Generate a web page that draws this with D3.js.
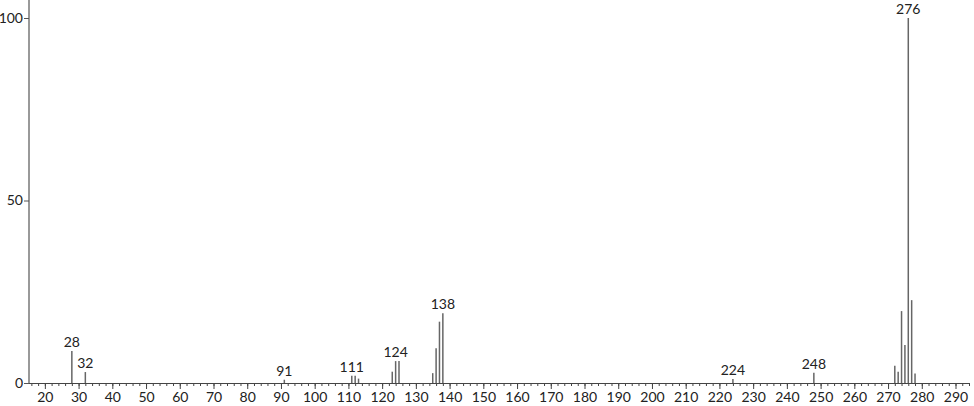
<!DOCTYPE html>
<html>
<head>
<meta charset="utf-8">
<script src="https://cdn.jsdelivr.net/npm/d3@7"></script>
<style>
  body { margin: 0; background: #fff; }
  text { font-family: Lato, "Open Sans", sans-serif; font-size: 14px; fill: #222; }
</style>
</head>
<body>
<div id="chart"></div>
<script>
/* peak data: m/z and relative intensity */
var mz = [28, 32, 91, 111, 112, 113, 123, 124, 125, 135, 136, 137, 138, 224, 248, 272, 273, 274, 275, 276, 277, 278];
var intensity = [8.8, 3.0, 0.9, 2.0, 2.0, 1.2, 3.1, 6.0, 6.0, 2.7, 9.5, 16.8, 19.1, 1.1, 2.8, 4.7, 3.1, 19.7, 10.4, 100, 22.7, 2.6];
var labelled = [28, 32, 91, 111, 124, 138, 224, 248, 276];
var xTicks = d3.range(20, 291, 10);
var yTicks = [0, 50, 100];

var width = 974;
var height = 406;

var x = d3.scaleLinear().domain([15, 294]).range([28, 969]);
var y = d3.scaleLinear().domain([0, 100]).range([383, 18]);

var svg = d3.select("#chart").append("svg")
    .attr("width", width)
    .attr("height", height);

/* minor ticks every 2, major every 10 */
svg.append("g")
    .attr("transform", "translate(0,383)")
    .call(d3.axisBottom(x).tickValues(d3.range(16, 295, 2)).tickSize(3).tickFormat(""))
    .call(function(g) { g.select(".domain").remove(); })
    .selectAll("line").attr("stroke", "#444");

var xAxis = svg.append("g")
    .attr("transform", "translate(0,383)")
    .call(d3.axisBottom(x).tickValues(xTicks).tickSize(6).tickSizeOuter(0).tickPadding(3));
xAxis.select(".domain").attr("stroke", "#444");
xAxis.selectAll("line").attr("stroke", "#444");
xAxis.selectAll("text").style("font-size", "14px").attr("fill", "#222").style("font-family", "Lato, sans-serif");

var yAxis = svg.append("g")
    .attr("transform", "translate(29,0)")
    .call(d3.axisLeft(y).tickValues(yTicks).tickSize(5).tickSizeOuter(0).tickPadding(1));
yAxis.select(".domain").attr("stroke", "#999").attr("stroke-width", 2).attr("d", "M0,0V383");
yAxis.selectAll("line").attr("stroke", "#555");
yAxis.selectAll("text").style("font-size", "14px").attr("fill", "#222").style("font-family", "Lato, sans-serif");

var peaks = mz.map(function(m, i) { return { mz: m, val: intensity[i] }; });

svg.selectAll(".peak")
    .data(peaks)
    .enter().append("line")
    .attr("class", "peak")
    .attr("x1", function(d) { return x(d.mz); })
    .attr("x2", function(d) { return x(d.mz); })
    .attr("y1", y(0))
    .attr("y2", function(d) { return y(d.val); })
    .attr("stroke", "#666")
    .attr("stroke-width", 1.5);

svg.selectAll(".peak-label")
    .data(peaks.filter(function(d) { return labelled.indexOf(d.mz) >= 0; }))
    .enter().append("text")
    .attr("class", "peak-label")
    .attr("x", function(d) { return x(d.mz); })
    .attr("y", function(d) { return y(d.val) - 4; })
    .attr("text-anchor", "middle")
    .text(function(d) { return d.mz; });
</script>
</body>
</html>
